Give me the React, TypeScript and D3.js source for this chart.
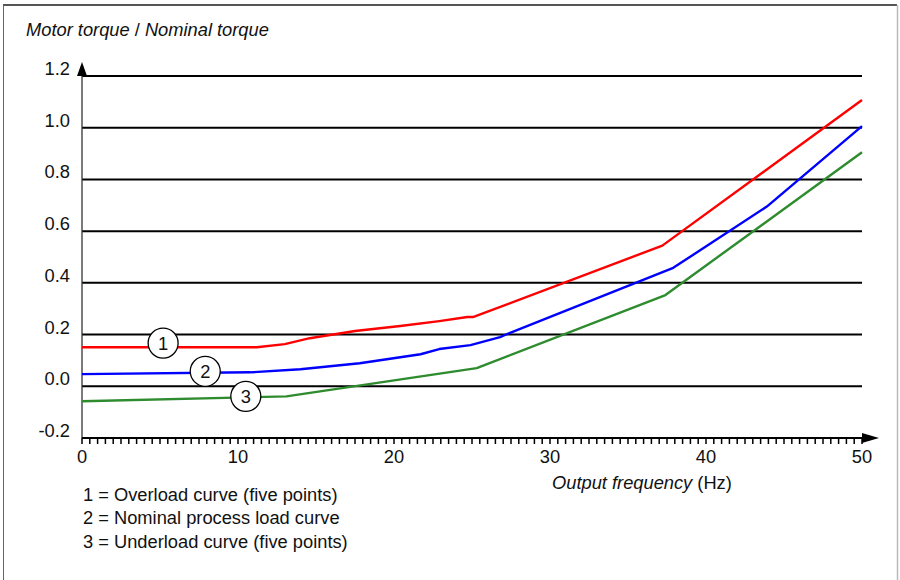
import React from "react";
import * as d3 from "d3";

const xTicks = [0, 10, 20, 30, 40, 50];
const yTicks = [-0.2, 0.0, 0.2, 0.4, 0.6, 0.8, 1.0, 1.2];

const overloadF = [0, 11.2, 13.0, 14.6, 17.5, 20.4, 22.9, 24.7, 25.1, 37.2, 50];
const overloadV = [0.151, 0.151, 0.163, 0.186, 0.214, 0.233, 0.252, 0.268, 0.268, 0.544, 1.107];

const nominalF = [0, 10.8, 14.0, 17.8, 21.7, 22.9, 24.9, 26.8, 27.4, 37.9, 43.9, 50];
const nominalV = [0.047, 0.054, 0.066, 0.089, 0.124, 0.144, 0.159, 0.19, 0.206, 0.458, 0.695, 1.006];

const underloadF = [0, 13.1, 25.3, 37.4, 50];
const underloadV = [-0.058, -0.039, 0.07, 0.353, 0.905];

const markerLabels = ["1", "2", "3"];
const markerF = [5.2, 7.9, 10.5];
const markerV = [0.167, 0.058, -0.039];

const legendLines = [
  "1 = Overload curve (five points)",
  "2 = Nominal process load curve",
  "3 = Underload curve (five points)",
];

const seriesColors = ["#ff0000", "#0000ff", "#2e8b2e"];

export default function App() {
  const W = 900;
  const H = 580;
  const x = d3.scaleLinear().domain([0, 50]).range([82, 862]);
  const y = d3.scaleLinear().domain([-0.2, 1.2]).range([438, 76]);
  const line = d3
    .line<[number, number]>()
    .x((d) => x(d[0]))
    .y((d) => y(d[1]));

  const series = [
    overloadF.map((f, i) => [f, overloadV[i]] as [number, number]),
    nominalF.map((f, i) => [f, nominalV[i]] as [number, number]),
    underloadF.map((f, i) => [f, underloadV[i]] as [number, number]),
  ];

  const minorTicks = d3.range(0, 50.001, 0.5);
  const font = "Liberation Sans, Arial, sans-serif";
  const fs = 18.3;

  return (
    <svg
      width={W}
      height={H}
      style={{ position: "absolute", left: 0, top: 0 }}
      fontFamily={font}
    >
      <rect x={0} y={0} width={W} height={H} fill="#fff" />
      {/* frame */}
      <line x1={3} y1={5} x2={897} y2={5} stroke="#555" strokeWidth={2} />
      <line x1={3.5} y1={5} x2={3.5} y2={580} stroke="#666" strokeWidth={1} />
      <line x1={897.5} y1={5} x2={897.5} y2={580} stroke="#bbb" strokeWidth={1.5} />

      {/* title */}
      <text x={26} y={36} fontSize={fs} fill="#111">
        <tspan fontStyle="italic">Motor torque</tspan>
        <tspan> / </tspan>
        <tspan fontStyle="italic">Nominal torque</tspan>
      </text>

      {/* grid lines */}
      {yTicks
        .filter((t) => t > -0.15)
        .map((t) => (
          <line
            key={t}
            x1={x(0)}
            x2={x(50)}
            y1={y(t)}
            y2={y(t)}
            stroke="#000"
            strokeWidth={2}
          />
        ))}

      {/* y labels */}
      {yTicks.map((t) => (
        <text
          key={"yl" + t}
          x={70}
          y={y(t) - 1}
          textAnchor="end"
          fontSize={fs}
          fill="#111"
        >
          {t.toFixed(1)}
        </text>
      ))}

      {/* y axis */}
      <line x1={x(0)} x2={x(0)} y1={y(-0.2)} y2={70} stroke="#333" strokeWidth={1.3} />
      <path
        d={`M${x(0) - 5},${y(1.2)} L${x(0) + 5},${y(1.2)} L${x(0)},${y(1.2) - 14} Z`}
        fill="#000"
      />

      {/* x axis */}
      <line x1={x(0)} x2={x(50) + 4} y1={y(-0.2)} y2={y(-0.2)} stroke="#000" strokeWidth={2} />
      {minorTicks.map((t) => (
        <line
          key={"mt" + t}
          x1={x(t)}
          x2={x(t)}
          y1={y(-0.2)}
          y2={y(-0.2) + 6}
          stroke="#000"
          strokeWidth={1.5}
        />
      ))}
      <path
        d={`M${x(50)},${y(-0.2) - 5} L${x(50)},${y(-0.2) + 5} L${x(50) + 17},${y(-0.2)} Z`}
        fill="#000"
      />
      {xTicks.map((t) => (
        <text
          key={"xl" + t}
          x={x(t)}
          y={463}
          textAnchor="middle"
          fontSize={fs}
          fill="#111"
        >
          {t}
        </text>
      ))}

      <text x={552} y={489} fontSize={fs} fill="#111">
        <tspan fontStyle="italic">Output frequency</tspan>
        <tspan> (Hz)</tspan>
      </text>

      {/* series */}
      {series.map((s, i) => (
        <path
          key={"s" + i}
          d={line(s) || ""}
          fill="none"
          stroke={seriesColors[i]}
          strokeWidth={2.4}
          strokeLinejoin="round"
        />
      ))}

      {/* markers */}
      {markerLabels.map((m, i) => (
        <g key={"m" + i}>
          <circle
            cx={x(markerF[i])}
            cy={y(markerV[i])}
            r={15}
            fill="#fff"
            stroke="#000"
            strokeWidth={1.3}
          />
          <text
            x={x(markerF[i])}
            y={y(markerV[i]) + 6.5}
            textAnchor="middle"
            fontSize={fs}
            fill="#111"
          >
            {m}
          </text>
        </g>
      ))}

      {/* legend */}
      {legendLines.map((l, i) => (
        <text key={"lg" + i} x={83} y={501 + i * 23.3} fontSize={fs} fill="#111">
          {l}
        </text>
      ))}
    </svg>
  );
}
